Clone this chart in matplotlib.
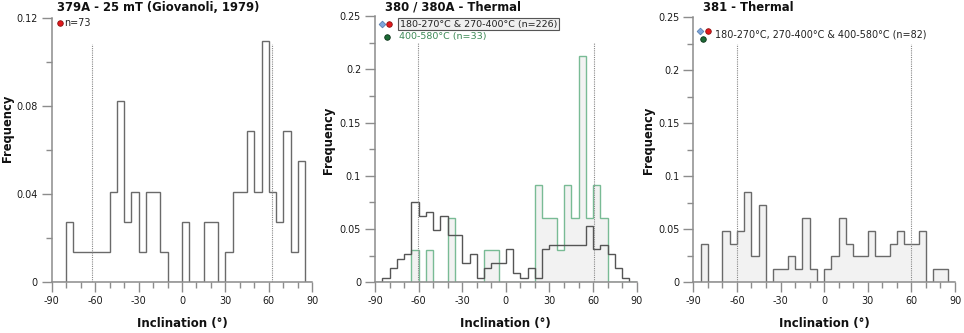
import numpy as np
import matplotlib
matplotlib.use("Agg")
import matplotlib.pyplot as plt
from matplotlib.lines import Line2D
from matplotlib.ticker import MultipleLocator, FuncFormatter

plt.rcParams['font.family'] = ['DejaVu Sans']
plt.rcParams['axes.unicode_minus'] = False

# ---------------- data ----------------
bin_edges = np.arange(-90, 95, 5)

counts_379A = [0, 0, 2, 1, 1, 1, 1, 1, 3, 6, 2, 3, 1, 3, 3, 1, 0, 0,
               2, 0, 0, 2, 2, 0, 1, 3, 3, 5, 3, 8, 3, 2, 5, 1, 4, 0]
n_379A = 73

counts_380_low = [0, 1, 3, 5, 6, 17, 14, 15, 11, 14, 10, 10, 4, 6, 1, 3, 4, 4,
                  7, 2, 1, 3, 1, 7, 8, 8, 8, 8, 8, 12, 7, 8, 6, 3, 1, 0]
n_380_low = 226

counts_380_high = [0, 0, 0, 0, 0, 1, 0, 1, 0, 0, 2, 0, 0, 0, 0, 1, 1, 0,
                   0, 0, 0, 0, 3, 2, 2, 1, 3, 2, 7, 2, 3, 2, 0, 0, 0, 0]
n_380_high = 33

counts_381 = [0, 3, 0, 0, 4, 3, 4, 7, 2, 6, 0, 1, 1, 2, 1, 5, 1, 0,
              1, 2, 5, 3, 2, 2, 4, 2, 2, 3, 4, 3, 3, 4, 0, 1, 1, 0]
n_381 = 82

ref_lines_379A = [-62.5, 62.5]
ref_lines_380 = [-60.7, 60.5]
ref_lines_381 = [-59.6, 59.8]

titles = ["379A - 25 mT (Giovanoli, 1979)", "380 / 380A - Thermal", "381 - Thermal"]
y_tops = [0.12, 0.25, 0.25]
y_majors = [0.04, 0.05, 0.05]
x_ticks = [-90, -60, -30, 0, 30, 60, 90]

# ---------------- layout ----------------
W, H = 964, 333
fig = plt.figure(figsize=(W / 100, H / 100), dpi=100)


def fx(px):
    return px / W


def fy(py):
    return 1 - py / H


axes_px = [(51.7, 17.7, 312.3, 282.3), (375.0, 16.0, 636.7, 282.3), (693.3, 17.3, 955.0, 282.3)]
axes = []
for (l, t, r, b) in axes_px:
    ax = fig.add_axes([fx(l), fy(b), (r - l) / W, (b - t) / H])
    axes.append(ax)

spine_col = '#8c8c8c'
fill_col = '#f2f2f2'
gray_line = '#6a6a6a'
green_line = '#79bb95'


def fmt(v, pos):
    return '%g' % round(v, 4)


for i, ax in enumerate(axes):
    ax.set_xlim(-90, 90)
    ax.set_ylim(0, y_tops[i])
    for s in ['top', 'right']:
        ax.spines[s].set_visible(False)
    for s in ['left', 'bottom']:
        ax.spines[s].set_color(spine_col)
        ax.spines[s].set_linewidth(1.1)
    ax.set_xticks(x_ticks)
    ax.xaxis.set_minor_locator(MultipleLocator(10))
    ax.yaxis.set_major_locator(MultipleLocator(y_majors[i]))
    ax.yaxis.set_minor_locator(MultipleLocator(y_majors[i] / 2))
    ax.yaxis.set_major_formatter(FuncFormatter(fmt))
    ax.tick_params(which='major', direction='out', length=7.5, width=1.0, color=spine_col,
                   labelsize=6.9, labelcolor='#1a1a1a', pad=2.5)
    ax.tick_params(which='minor', direction='out', length=4, width=1.0, color=spine_col)
    ax.set_facecolor('none')

# panel 1
ax = axes[0]
ax.stairs(np.array(counts_379A) / n_379A, bin_edges, baseline=0, fill=False,
          color=gray_line, linewidth=1.0)
for v in ref_lines_379A:
    ax.axvline(v, ymax=0.9, color='#888888', linestyle=(0, (1, 1)), linewidth=0.8)

# panel 2
ax = axes[1]
ax.stairs(np.array(counts_380_high) / n_380_high, bin_edges, baseline=0, fill=True,
          color=fill_col, linewidth=0)
ax.stairs(np.array(counts_380_high) / n_380_high, bin_edges, baseline=0, fill=False,
          color=green_line, linewidth=1.0)
ax.stairs(np.array(counts_380_low) / n_380_low, bin_edges, baseline=0, fill=False,
          color='#555555', linewidth=1.0)
for v in ref_lines_380:
    ax.axvline(v, ymax=0.9, color='#888888', linestyle=(0, (1, 1)), linewidth=0.8)

# panel 3
ax = axes[2]
ax.stairs(np.array(counts_381) / n_381, bin_edges, baseline=0, fill=True,
          color=fill_col, linewidth=0)
ax.stairs(np.array(counts_381) / n_381, bin_edges, baseline=0, fill=False,
          color=gray_line, linewidth=1.0)
for v in ref_lines_381:
    ax.axvline(v, ymax=0.9, color='#888888', linestyle=(0, (1, 1)), linewidth=0.8)

# titles and labels
title_x = [57, 385, 703]
for i, ax in enumerate(axes):
    fig.text(fx(title_x[i]), fy(7.5), titles[i], fontsize=8.4, fontweight='bold',
             ha='left', va='center', color='#111111')
    l, t, r, b = axes_px[i]
    fig.text(fx((l + r) / 2), fy(323), 'Inclination (°)', fontsize=8.5, fontweight='bold',
             ha='center', va='center', color='#111111')

ylab = [(7.5, 128), (328.5, 140), (648.5, 140)]
for (x, y) in ylab:
    fig.text(fx(x), fy(y), 'Frequency', fontsize=8.3, fontweight='bold', rotation=90,
             ha='center', va='center', color='#111111')

red = '#e3191c'
blue = '#7ea6dc'
green_dot = '#1c6a35'


def marker(x, y, m, fc, ec, ms=4.0):
    fig.add_artist(Line2D([fx(x)], [fy(y)], marker=m, markersize=ms, markerfacecolor=fc,
                          markeredgecolor=ec, markeredgewidth=0.6, linestyle='none',
                          transform=fig.transFigure))


# legend panel 1
marker(60, 23.3, 'o', red, '#8a1010')
fig.text(fx(64.5), fy(23.3), 'n=73', fontsize=6.9, ha='left', va='center', color='#222222')

# legend panel 2
marker(382.3, 24.2, 'D', blue, '#5a7fb0', ms=3.4)
marker(389.3, 24.2, 'o', red, '#8a1010')
fig.text(fx(400), fy(24.0), '180-270°C & 270-400°C (n=226)', fontsize=6.8, ha='left',
         va='center', color='#222222',
         bbox=dict(boxstyle='square,pad=0.18', facecolor='#efefef', edgecolor='#555555',
                   linewidth=0.8))
marker(386.7, 36.7, 'o', green_dot, '#0b3318')
fig.text(fx(399), fy(36.7), '400-580°C (n=33)', fontsize=6.8, ha='left', va='center',
         color='#3d8a57')

# legend panel 3
marker(700, 30.5, 'D', blue, '#5a7fb0', ms=3.4)
marker(707.7, 30.5, 'o', red, '#8a1010')
marker(703.3, 38.5, 'o', green_dot, '#0b3318')
fig.text(fx(715), fy(34.3), '180-270°C, 270-400°C & 400-580°C (n=82)', fontsize=6.9,
         ha='left', va='center', color='#222222')

fig.savefig('out.png', dpi=100)
